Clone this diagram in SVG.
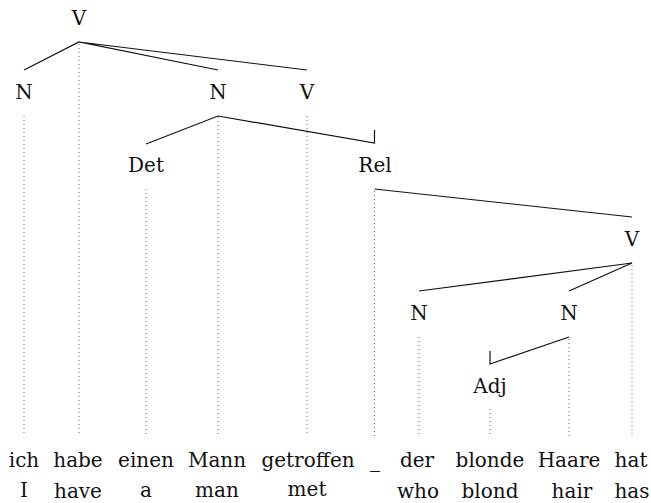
<svg xmlns="http://www.w3.org/2000/svg" width="651" height="503" viewBox="0 0 651 503">
<style>
text{font-family:'DejaVu Serif','Liberation Serif',serif;font-size:20px;fill:#111;text-anchor:middle}
.e{stroke:#111;stroke-width:1.2;fill:none}
.d{stroke:#666;stroke-width:1;stroke-dasharray:1 3;fill:none}
</style>
<rect width="651" height="503" fill="#fff"/>
<g id="connectors">
<path class="e" d="M24,70 L79,42 L218,70 M79,42 L307,70"/>
<path class="e" d="M146,144 L218,116 L374.5,143 L374.5,130"/>
<path class="e" d="M374.5,189 L632,217"/>
<path class="e" d="M419,291 L632,263 L569,291"/>
<path class="e" d="M569,337 L490,364 L490,351"/>
<path class="d" d="M79,44 V436 M24,116 V436 M218,117 V436 M307,116 V436 M146,189 V436 M374.5,191 V436 M632,265 V436 M419,337 V436 M569,339 V436 M490,409 V436"/>
</g>
<g id="n-V-top"><text x="79" y="25">V</text></g>
<g id="n-N-1"><text x="24" y="99">N</text></g>
<g id="n-N-2"><text x="218" y="99">N</text></g>
<g id="n-V-2"><text x="307" y="99">V</text></g>
<g id="n-Det"><text x="146" y="172">Det</text></g>
<g id="n-Rel"><text x="375" y="172">Rel</text></g>
<g id="n-V-3"><text x="632" y="246">V</text></g>
<g id="n-N-3"><text x="419" y="320">N</text></g>
<g id="n-N-4"><text x="569" y="320">N</text></g>
<g id="n-Adj"><text x="490" y="393">Adj</text></g>
<g id="words">
<text x="24" y="467">ich</text>
<text x="78" y="467">habe</text>
<text x="146" y="467">einen</text>
<text x="217" y="467">Mann</text>
<text x="308" y="467">getroffen</text>
<text x="375" y="467">_</text>
<text x="417" y="467">der</text>
<text x="490" y="467">blonde</text>
<text x="569" y="467">Haare</text>
<text x="631" y="467">hat</text>
</g>
<g id="glosses">
<text x="24" y="497">I</text>
<text x="78" y="498">have</text>
<text x="146" y="497">a</text>
<text x="217" y="497">man</text>
<text x="307" y="496">met</text>
<text x="418" y="498">who</text>
<text x="490" y="498">blond</text>
<text x="572" y="498">hair</text>
<text x="632" y="498">has</text>
</g>
</svg>
